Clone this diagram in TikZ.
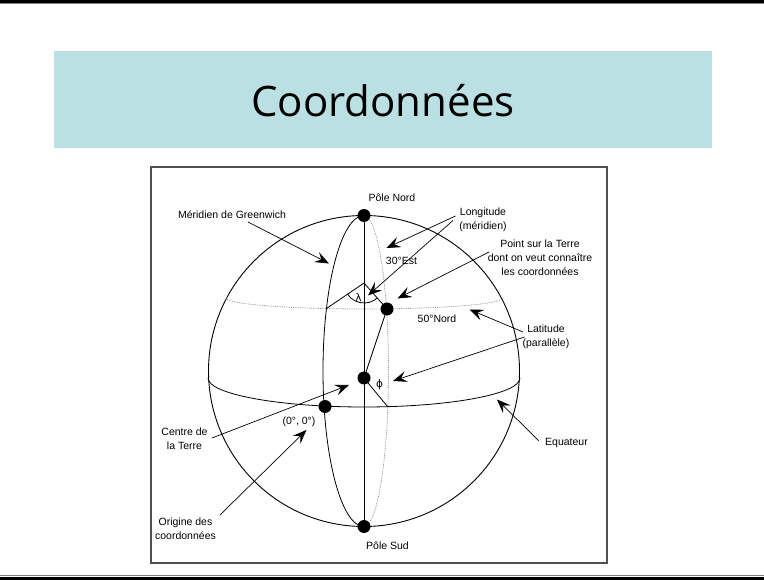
\documentclass[tikz,border=0pt]{standalone}
\usepackage{fontspec}
\setmainfont{Liberation Sans}
\newfontfamily\titlefont{Open Sans}
\newfontfamily\greekfont{DejaVu Sans}
\usetikzlibrary{arrows.meta}
\definecolor{titlebg}{HTML}{BBE0E3}
\definecolor{framegray}{HTML}{505050}

\begin{document}
\begin{tikzpicture}[x=1pt,y=-1pt,
  lbl/.style={font=\fontsize{10.5}{14}\selectfont, align=center, inner sep=0pt},
  greek/.style={font=\greekfont\fontsize{10.5}{12}\selectfont, inner sep=0pt},
  ptr/.style={line width=0.7pt, -{Stealth[length=14pt,width=11pt,inset=5.5pt]}},
  outline/.style={line width=0.9pt},
  faint/.style={gray!85, line width=0.8pt, densely dotted},
  dot/.style={circle, fill=black, inner sep=0pt, minimum size=13pt},
  thin line/.style={line width=0.8pt}]

\useasboundingbox (0,0) rectangle (764,580);

% page rules
\draw[line width=3pt] (0,1.5) -- (764,1.5);
\draw[gray, line width=1pt] (0,3.5) -- (764,3.5);
\draw[gray, line width=1pt] (0,575.5) -- (764,575.5);
\draw[line width=3pt] (0,578.5) -- (764,578.5);

% title band
\node[fill=titlebg, minimum width=658pt, minimum height=97pt, inner sep=0pt]
  (titlebox) at (383,100) {};
\node[anchor=base, inner sep=0pt] (title) at (383,117)
  {\titlefont\fontsize{42}{48}\selectfont Coordonnées};

% figure frame
\node[draw=framegray, line width=1.2pt, minimum width=456pt, minimum height=396pt,
  inner sep=0pt] (frame) at (379,365) {};

% globe outline
\draw[outline] (364,371) circle[radius=155.5];

% key points
\coordinate (N) at (364,215.5);
\coordinate (S) at (364,526.5);
\coordinate (apex) at (364,283);
\coordinate (G50) at (326.5,308.5);
\coordinate (E30) at (387.5,406.5);

% 30 degrees East meridian and 50 degrees North parallel
\draw[faint] (S) arc[start angle=90, end angle=-90, x radius=24.5, y radius=155.5];
\draw[faint] (226,298) arc[start angle=180, end angle=0, x radius=138.5, y radius=11];

% Greenwich meridian, equator, polar axis
\draw[thin line] (S) arc[start angle=90, end angle=270, x radius=41, y radius=155.5];
\draw[thin line] (208,378) arc[start angle=180, end angle=0, x radius=156, y radius=29];
\draw[thin line] (N) -- (S);

% dots
\node[dot] (north) at (N) {};
\node[dot] (south) at (S) {};
\node[dot] (pt) at (387,309) {};
\node[dot] (centre) at (364,378) {};
\node[dot] (origin) at (325,406.5) {};

% longitude angle
\draw[thin line] (G50) -- (apex) -- (pt.center);
\draw[thin line] ([shift={(146.3:20)}]apex) arc[start angle=146.3, end angle=48.5, radius=20];
\node[greek] (lambda) at (358.5,298) {λ};

% latitude angle
\draw[thin line] (centre.center) -- (pt.center);
\draw[thin line] (centre.center) -- (E30);
\node[greek] (phi) at (379.5,385) {ϕ};

% labels
\node[lbl] (lnord) at (392,198) {Pôle Nord};
\node[lbl] (lsud) at (387.5,546) {Pôle Sud};
\node[lbl] (lgreen) at (232,215) {Méridien de Greenwich};
\node[lbl] (llong) at (483,220) {Longitude\\(méridien)};
\node[lbl] (lpoint) at (540,258) {Point sur la Terre\\dont on veut connaître\\les coordonnées};
\node[lbl] (l30) at (401.5,261) {30°Est};
\node[lbl] (l50) at (437,319) {50°Nord};
\node[lbl] (llat) at (546,337) {Latitude\\(parallèle)};
\node[lbl] (lequ) at (566.5,443) {Equateur};
\node[lbl] (lcentre) at (184.5,439) {Centre de\\la Terre};
\node[lbl] (lzero) at (299,422) {(0°, 0°)};
\node[lbl] (lorig) at (185.5,528.5) {Origine des\\coordonnées};

% pointer tails and tips
\coordinate (greenTail) at (248,222);  \coordinate (greenTip) at (329,263.5);
\coordinate (longTailA) at (455.5,216); \coordinate (longTipA) at (386.5,248);
\coordinate (longTailB) at (453,220.5); \coordinate (longTipB) at (368,295.5);
\coordinate (pointTail) at (489,252);  \coordinate (pointTip) at (397.5,298.5);
\coordinate (latTailA) at (523,332);   \coordinate (latTipA) at (469.5,309.5);
\coordinate (latTailB) at (524.5,337); \coordinate (latTipB) at (393,381);
\coordinate (equTail) at (539,441);    \coordinate (equTip) at (497,399.5);
\coordinate (centreTail) at (212,438); \coordinate (centreTip) at (349,385);
\coordinate (origTail) at (220,515);   \coordinate (origTip) at (306.5,430);

% pointers
\draw[ptr] (greenTail) -- (greenTip);
\draw[ptr] (longTailA) -- (longTipA);
\draw[ptr] (longTailB) -- (longTipB);
\draw[ptr] (pointTail) -- (pointTip);
\draw[ptr] (latTailA) -- (latTipA);
\draw[ptr] (latTailB) -- (latTipB);
\draw[ptr] (equTail) -- (equTip);
\draw[ptr] (centreTail) -- (centreTip);
\draw[ptr] (origTail) -- (origTip);

\end{tikzpicture}
\end{document}
